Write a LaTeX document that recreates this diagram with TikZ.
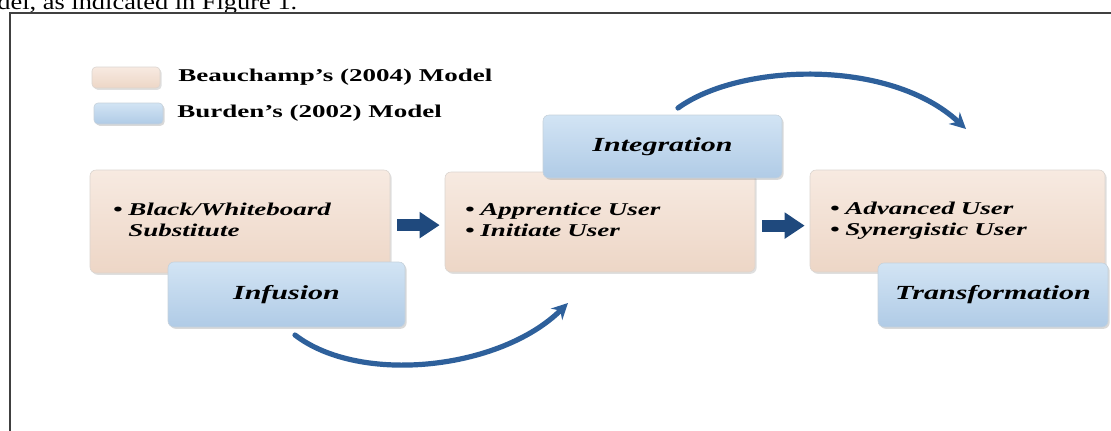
\documentclass[tikz,border=0pt]{standalone}
\usepackage{fontspec}
\setmainfont{Liberation Serif}[FakeStretch=1.5]
\newfontfamily\bodyfont{Liberation Serif}[FakeStretch=1.2]
\usetikzlibrary{arrows.meta, shadows, positioning}
\definecolor{peachtop}{RGB}{247,234,225}
\definecolor{peachbot}{RGB}{237,214,198}
\definecolor{skytop}{RGB}{210,228,244}
\definecolor{skybot}{RGB}{176,203,230}
\definecolor{deepblue}{RGB}{31,73,125}
\definecolor{arcblue}{RGB}{46,96,155}

\begin{document}
\begin{tikzpicture}[x=0.5pt, y=-0.5pt,
    peachbox/.style={rectangle, rounded corners=3pt, top color=peachtop, bottom color=peachbot,
        draw=peachbot!70!black!40!white, line width=0.3pt,
        drop shadow={shadow xshift=0.8pt, shadow yshift=-0.9pt, opacity=0.25}},
    skybox/.style={rectangle, rounded corners=3pt, top color=skytop, bottom color=skybot,
        draw=skybot!80!black!50!white, line width=0.3pt,
        drop shadow={shadow xshift=0.8pt, shadow yshift=-0.9pt, opacity=0.3},
        font=\fontsize{10}{12}\selectfont\bfseries\itshape},
    usertext/.style={font=\fontsize{9}{10.5}\selectfont\bfseries\itshape, align=left},
    legendtext/.style={anchor=west, inner sep=0pt, font=\fontsize{9}{11}\selectfont\bfseries},
    blockarrow/.style={deepblue, line width=6pt, -{Triangle[length=10pt, width=12.5pt]},
        shorten <=3.5pt, shorten >=2.5pt},
    arcarrow/.style={arcblue, line width=2.6pt, line cap=round, -{Stealth[length=8pt, width=8pt]}}]
    \useasboundingbox (0,0) rectangle (1111,430);
    \clip (0,0) rectangle (1111,430);

    % running text cut by the page
    \node[anchor=base west, inner sep=0pt, font=\bodyfont\fontsize{11}{12}\selectfont] (caption) at (-3,9.5)
        {del, as indicated in Figure 1.};
    \draw[black!75, line width=0.6pt] (10,440) |- (1120,13);

    % legend
    \node[peachbox, minimum width=34pt, minimum height=10.5pt, rounded corners=2pt] (keypeach) at (126,77.5) {};
    \node[skybox, minimum width=34.5pt, minimum height=10.5pt, rounded corners=2pt] (keysky) at (128.5,113.5) {};
    \node[legendtext] (keybeau) at (178,77.5) {Beauchamp’s (2004) Model};
    \node[legendtext] (keyburd) at (177,113.5) {Burden’s (2002) Model};

    % Beauchamp stages
    \node[peachbox, minimum width=150pt, minimum height=51.5pt, inner xsep=11.5pt, text width=127pt,
        usertext] (boxA) at (240,221.5)
        {\begin{tabular}{@{}l@{\ }l@{}}\textbullet & Black/Whiteboard\\ & Substitute\end{tabular}};
    \node[peachbox, minimum width=155pt, minimum height=50pt, inner xsep=10pt, text width=135pt,
        usertext] (boxB) at (600,222)
        {\raisebox{-2.5pt}{\begin{tabular}{@{}l@{\ }l@{}}\textbullet & Apprentice User\\ \textbullet & Initiate User\end{tabular}}};
    \node[peachbox, minimum width=147.5pt, minimum height=51pt, inner xsep=10pt, text width=127.5pt,
        usertext] (boxC) at (957.5,221)
        {\raisebox{-2.5pt}{\begin{tabular}{@{}l@{\ }l@{}}\textbullet & Advanced User\\ \textbullet & Synergistic User\end{tabular}}};

    % Burden stages
    \node[skybox, minimum width=118.5pt, minimum height=32.5pt] (infusion) at (286.5,294.5) {Infusion};
    \node[skybox, minimum width=119.5pt, minimum height=31.5pt] (integration) at (662.5,146.5) {Integration};
    \node[skybox, minimum width=115pt, minimum height=32pt] (transformation) at (993,295) {Transformation};

    % arrows
    \draw[blockarrow] ([yshift=-1.8pt]boxA.east) -- ([yshift=-1.8pt]boxA.east -| boxB.west);
    \draw[blockarrow] ([yshift=-1.8pt]boxB.east) -- ([yshift=-1.8pt]boxB.east -| boxC.west);

    \coordinate (infout) at (295,335);
    \coordinate (intin) at (568,303);
    \coordinate (intout) at (678,108);
    \coordinate (transin) at (966,129);
    \draw[arcarrow] (infout) .. controls (360,385) and (500,370) .. (intin);
    \draw[arcarrow] (intout) .. controls (740,63) and (890,58) .. (transin);
\end{tikzpicture}
\end{document}
